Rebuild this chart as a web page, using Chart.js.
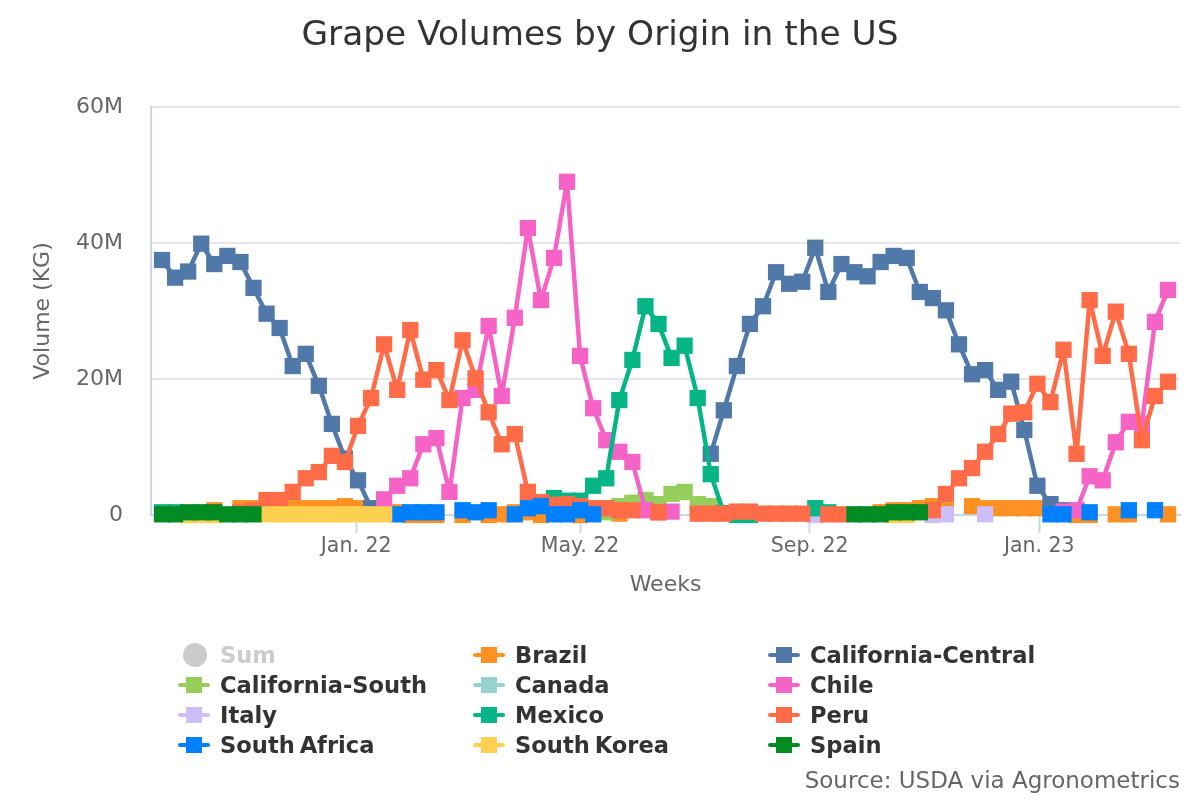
<!DOCTYPE html>
<html>
<head>
<meta charset="utf-8">
<title>Grape Volumes by Origin in the US</title>
<script src="https://cdn.jsdelivr.net/npm/chart.js@4"></script>
<style>
  html, body { margin: 0; padding: 0; background: #fff; }
  #wrap { position: relative; width: 1200px; height: 800px; overflow: hidden; font-family: "DejaVu Sans", sans-serif; }
  #legend { position: absolute; left: 0; top: 0; }
  .item { position: absolute; height: 30px; line-height: 30px; font-size: 22.6px; font-weight: bold; word-spacing: -3px; color: #333; white-space: nowrap; }
  .item .line { position: absolute; left: -42px; top: 13px; width: 32px; height: 4px; border-radius: 2px; }
  .item .box { position: absolute; left: -34px; top: 7px; width: 16px; height: 16px; }
  .item .dot { position: absolute; left: -37px; top: 3px; width: 24px; height: 24px; border-radius: 50%; background: #ccc; }
  .item.off { color: #ccc; }
  #source { position: absolute; right: 20px; top: 767px; font-size: 23px; color: #666; white-space: nowrap; }
</style>
</head>
<body>
<div id="wrap">
  <canvas id="grafico" width="1200" height="800"></canvas>
  <div id="legend"></div>
  <div id="source">Source: USDA via Agronometrics</div>
</div>
<script>
const _ = null;

const weeks = [
  '2021-09-19','2021-09-26','2021-10-03','2021-10-10','2021-10-17','2021-10-24','2021-10-31','2021-11-07','2021-11-14','2021-11-21',
  '2021-11-28','2021-12-05','2021-12-12','2021-12-19','2021-12-26','2022-01-02','2022-01-09','2022-01-16','2022-01-23','2022-01-30',
  '2022-02-06','2022-02-13','2022-02-20','2022-02-27','2022-03-06','2022-03-13','2022-03-20','2022-03-27','2022-04-03','2022-04-10',
  '2022-04-17','2022-04-24','2022-05-01','2022-05-08','2022-05-15','2022-05-22','2022-05-29','2022-06-05','2022-06-12','2022-06-19',
  '2022-06-26','2022-07-03','2022-07-10','2022-07-17','2022-07-24','2022-07-31','2022-08-07','2022-08-14','2022-08-21','2022-08-28',
  '2022-09-04','2022-09-11','2022-09-18','2022-09-25','2022-10-02','2022-10-09','2022-10-16','2022-10-23','2022-10-30','2022-11-06',
  '2022-11-13','2022-11-20','2022-11-27','2022-12-04','2022-12-11','2022-12-18','2022-12-25','2023-01-01','2023-01-08','2023-01-15',
  '2023-01-22','2023-01-29','2023-02-05','2023-02-12','2023-02-19','2023-02-26','2023-03-05','2023-03-12'
];

const tickDates = ['2022-01-01', '2022-05-01', '2022-09-01', '2023-01-02'];
const tickLabels = ['Jan. 22', 'May. 22', 'Sep. 22', 'Jan. 23'];

// valores em milhoes de kg, uma posicao por semana
const brazil = [
  _,_,_,_,0.7,_,1,1,_,_,
  1,1,1,1,1.3,1,_,_,0.4,0,
  0,0,_,0,_,0,0.1,0.4,0.4,0,
  0.4,_,0,_,_,0.2,_,_,_,_,
  _,_,_,_,_,_,_,_,_,_,
  _,_,_,_,_,0.4,0.7,0.7,1,1.3,
  0.7,_,1.3,1,1,1,1,1,_,_,
  0,0,_,0.1,0.1,_,_,0.1
];
const californiaCentral = [
  37.5,34.9,35.8,39.9,36.9,38.1,37.2,33.4,29.6,27.5,
  21.9,23.7,19,13.4,8.3,5.1,1,_,_,_,
  _,_,_,_,_,_,_,_,_,_,
  _,_,_,_,_,_,_,_,_,_,
  _,_,9,15.4,21.9,28.1,30.7,35.7,34,34.3,
  39.3,32.8,36.9,35.7,35.1,37.2,38.1,37.8,32.8,31.9,
  30.1,25.1,20.7,21.3,18.4,19.6,12.5,4.3,1.6,0.7,
  _,_,_,_,_,_,_,_
];
const californiaSouth = [
  _,_,_,_,_,_,_,_,_,_,
  _,_,_,_,_,_,_,_,_,_,
  _,_,_,_,_,_,_,_,_,_,
  _,_,_,_,0.4,1.3,1.8,2.2,1.6,3.1,
  3.4,1.6,1.3,_,_,_,_,_,_,_,
  _,_,_,_,_,_,_,_,_,_,
  _,_,_,_,_,_,_,_,_,_,
  _,_,_,_,_,_,_,_
];
const chile = [
  _,_,_,_,_,_,_,_,_,_,
  _,_,_,_,_,_,_,2.3,4.3,5.4,
  10.4,11.3,3.4,17.2,18.4,27.8,17.5,29,42.2,31.6,
  37.8,49,23.4,15.7,11,9.3,7.8,0.7,0.4,0.5,
  _,_,_,_,_,_,_,_,_,_,
  _,_,_,_,_,_,_,_,_,_,
  _,_,_,_,_,_,_,_,_,0.5,
  0.7,5.7,5.1,10.7,13.7,13.4,28.4,33.1
];
const italy = [
  _,_,_,_,_,_,_,_,_,_,
  _,_,_,_,_,_,_,_,_,_,
  _,_,_,_,_,_,_,_,_,_,
  _,_,_,_,_,_,_,_,_,_,
  _,_,_,_,_,_,_,_,_,_,
  0,_,_,_,_,_,_,_,_,0,
  0.1,_,_,0.1,_,_,_,_,_,_,
  _,_,_,_,_,_,_,_
];
const mexico = [
  0.4,0.4,_,_,_,_,_,_,_,_,
  _,_,_,_,_,_,_,_,_,_,
  _,_,_,_,_,_,_,_,_,_,
  2.5,2.1,2.1,4.3,5.4,16.9,22.8,30.7,28.1,23.1,
  24.9,17.2,6,0.3,0,0,_,_,_,_,
  1,0.4,_,_,_,_,_,_,_,_,
  _,_,_,_,_,_,_,_,_,_,
  _,_,_,_,_,_,_,_
];
const peru = [
  _,_,_,_,_,_,0.4,0.7,2.2,2.2,
  3.4,5.4,6.3,8.7,7.8,13.1,17.2,25.1,18.4,27.2,
  19.9,21.3,16.9,25.7,20.1,15.1,10.4,11.9,3.4,1.9,
  1.5,1.6,1.3,1,1,0.7,0.7,_,0.4,_,
  _,0.2,0.2,0.2,0.5,0.5,0.2,0.2,0.2,0.2,
  _,0.1,0.1,_,_,_,_,_,_,0.7,
  3.1,5.4,6.9,9.3,11.9,14.9,15.1,19.3,16.6,24.3,
  9,31.6,23.4,29.9,23.7,11,17.5,19.6
];
const southAfrica = [
  _,_,_,_,_,_,_,_,_,_,
  _,_,_,_,_,_,_,_,0.1,0.4,
  0.4,0.4,_,0.7,0.4,0.7,_,0.1,1,1.3,
  0.1,0.1,0.7,0.1,_,_,_,_,_,_,
  _,_,_,_,_,_,_,_,_,_,
  _,_,_,_,_,_,_,_,_,_,
  _,_,_,_,_,_,_,_,0.1,0.1,
  _,0.4,_,_,0.7,_,0.7,_
];
const southKorea = [
  _,_,0,0,0,_,_,_,0.1,0.1,
  0.1,0.1,0.1,0.1,0.1,0.1,0.1,0.1,_,_,
  _,_,_,_,_,_,_,_,_,_,
  _,_,_,_,_,_,_,_,_,_,
  _,_,_,_,_,_,_,_,_,_,
  _,_,_,_,_,_,0,0,_,_,
  _,_,_,_,_,_,_,_,_,_,
  _,_,_,_,_,_,_,_
];
const spain = [
  0.1,0.1,0.4,0.4,0.4,0.1,0.1,0.1,_,_,
  _,_,_,_,_,_,_,_,_,_,
  _,_,_,_,_,_,_,_,_,_,
  _,_,_,_,_,_,_,_,_,_,
  _,_,_,_,_,_,_,_,_,_,
  _,_,_,0.1,0.1,0.1,0.4,0.4,0.4,_,
  _,_,_,_,_,_,_,_,_,_,
  _,_,_,_,_,_,_,_
];

const paises = [
  { nome: 'Brazil', cor: '#ff9123', valores: brazil },
  { nome: 'California-Central', cor: '#5079a9', valores: californiaCentral },
  { nome: 'California-South', cor: '#95ce5a', valores: californiaSouth },
  { nome: 'Canada', cor: '#95d2d0', valores: [] },
  { nome: 'Chile', cor: '#f663c6', valores: chile },
  { nome: 'Italy', cor: '#cdbdf9', valores: italy },
  { nome: 'Mexico', cor: '#06b586', valores: mexico },
  { nome: 'Peru', cor: '#ff6c47', valores: peru },
  { nome: 'South Africa', cor: '#0080ff', valores: southAfrica },
  { nome: 'South Korea', cor: '#ffd04f', valores: southKorea },
  { nome: 'Spain', cor: '#008b23', valores: spain }
];

function criaDatasets() {
  return paises.map((p, i) => ({
    label: p.nome,
    data: p.valores.map((v, s) => ({ x: Date.parse(weeks[s]), y: v })),
    borderColor: p.cor,
    backgroundColor: p.cor,
    borderWidth: 4.5,
    borderJoinStyle: 'round',
    pointStyle: 'rect',
    pointRadius: 11.5,
    pointBorderWidth: 0,
    tension: 0,
    clip: false,
    spanGaps: false,
    order: paises.length - i // a ultima serie fica por cima
  }));
}

function criaLegenda() {
  const colunas = [220, 515, 810];
  const legenda = document.getElementById('legend');
  const itens = [{ nome: 'Sum', off: true }].concat(paises);
  itens.forEach((p, i) => {
    const el = document.createElement('div');
    el.className = 'item' + (p.off ? ' off' : '');
    el.style.left = colunas[i % 3] + 'px';
    el.style.top = (640 + Math.floor(i / 3) * 30) + 'px';
    if (p.off) {
      el.innerHTML = '<span class="dot"></span>' + p.nome;
    } else {
      el.innerHTML = `<span class="line" style="background:${p.cor}"></span><span class="box" style="background:${p.cor}"></span>` + p.nome;
    }
    legenda.appendChild(el);
  });
}

const ctx = document.getElementById('grafico').getContext('2d');
new Chart(ctx, {
  type: 'line',
  data: { datasets: criaDatasets() },
  options: {
    responsive: false,
    animation: false,
    layout: { padding: { left: 20, right: 20, top: 0, bottom: 197 } },
    plugins: {
      legend: { display: false },
      tooltip: { enabled: false },
      title: {
        display: true,
        text: 'Grape Volumes by Origin in the US',
        color: '#333',
        font: { family: '"DejaVu Sans"', size: 34.4, weight: 'normal' },
        padding: { top: 15, bottom: 50.7 }
      }
    },
    scales: {
      x: {
        type: 'linear',
        min: Date.parse('2021-09-13T02:00:00Z'),
        max: Date.parse('2023-03-18T10:00:00Z'),
        afterBuildTicks: scale => { scale.ticks = tickDates.map(d => ({ value: Date.parse(d) })); },
        afterFit: scale => { scale.height = 88; },
        grid: { drawOnChartArea: false, drawTicks: true, tickLength: 18, tickColor: '#ccd6eb', tickWidth: 2 },
        border: { color: '#ccd6eb', width: 2 },
        ticks: {
          autoSkip: false,
          maxRotation: 0,
          color: '#666',
          padding: 1,
          font: { family: '"DejaVu Sans"', size: 20.5 },
          callback: (v, i) => tickLabels[i]
        },
        title: {
          display: true,
          text: 'Weeks',
          color: '#666',
          font: { family: '"DejaVu Sans"', size: 22 },
          padding: { top: 0, bottom: 5 }
        }
      },
      y: {
        min: 0,
        max: 60,
        afterFit: scale => { scale.width = 131; },
        afterBuildTicks: scale => { scale.ticks = [0, 20, 40, 60].map(v => ({ value: v })); },
        grid: { color: '#e6e6e6', lineWidth: 2, drawTicks: false },
        border: { color: '#ccd6eb', width: 2 },
        ticks: {
          color: '#666',
          padding: 28,
          font: { family: '"DejaVu Sans"', size: 22 },
          callback: v => (v === 0 ? '0' : v + 'M')
        },
        title: {
          display: true,
          text: 'Volume (KG)',
          color: '#666',
          font: { family: '"DejaVu Sans"', size: 22 },
          padding: { top: 10, bottom: 0 }
        }
      }
    }
  }
});

criaLegenda();
</script>
</body>
</html>
